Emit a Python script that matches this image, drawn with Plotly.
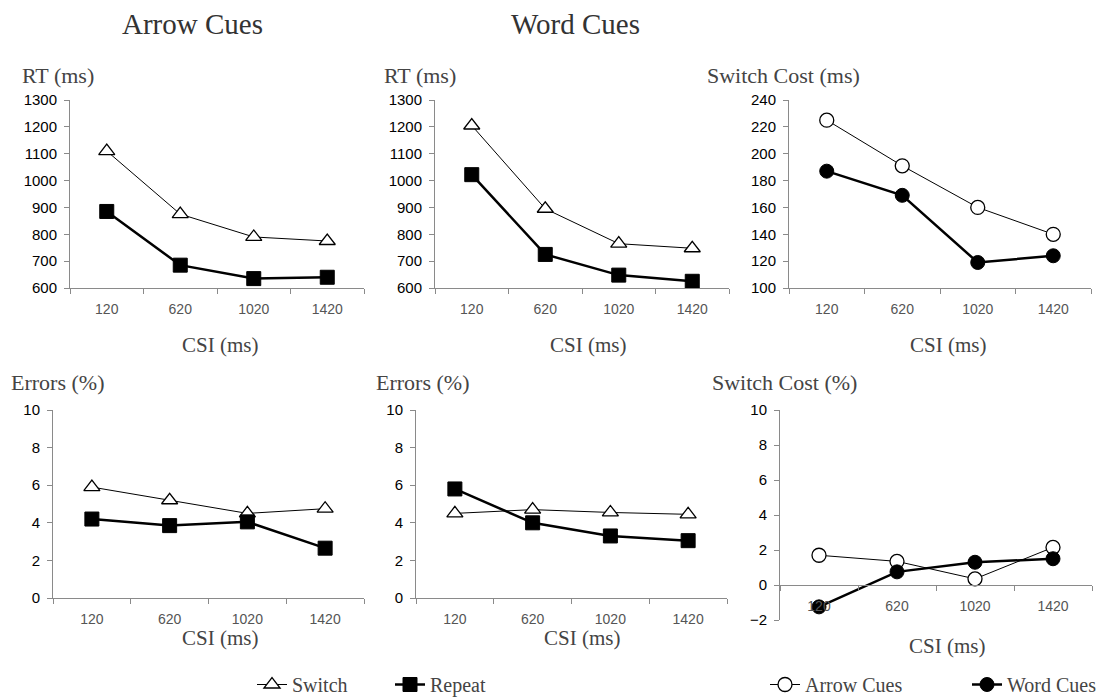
import plotly.graph_objects as go

# ---------------- data ----------------
csi = ["120", "620", "1020", "1420"]

rt_arrow_switch = [1110, 875, 790, 775]
rt_arrow_repeat = [885, 685, 635, 640]
rt_word_switch = [1205, 895, 765, 748]
rt_word_repeat = [1022, 725, 648, 625]
sc_rt_arrow = [225, 191, 160, 140]
sc_rt_word = [187, 169, 119, 124]

err_arrow_switch = [5.9, 5.2, 4.5, 4.75]
err_arrow_repeat = [4.2, 3.85, 4.05, 2.65]
err_word_switch = [4.5, 4.7, 4.55, 4.45]
err_word_repeat = [5.8, 4.0, 3.3, 3.05]
sc_err_arrow = [1.7, 1.35, 0.35, 2.15]
sc_err_word = [-1.25, 0.75, 1.3, 1.5]

rt_ticks = [600, 700, 800, 900, 1000, 1100, 1200, 1300]
sc_rt_ticks = [100, 120, 140, 160, 180, 200, 220, 240]
err_ticks = [0, 2, 4, 6, 8, 10]
sc_err_ticks = [-2, 0, 2, 4, 6, 8, 10]

# the page body has an 8px default margin; size the figure to fit the window
OFF = 8
W, H = 1119 - OFF, 697 - OFF
SANS = "Liberation Sans, Arial, sans-serif"
SERIF = "Liberation Serif, Times New Roman, serif"
AXC = "#8a8a8a"


def px_x(v):
    return (v - OFF) / W


def px_y(v):
    return 1 - (v - OFF) / H


fig = go.Figure()

thin = dict(color="black", width=1)
thick = dict(color="black", width=2.5)
tri = dict(symbol="triangle-up", size=14, color="white", line=dict(color="black", width=1.3))
sq = dict(symbol="square", size=14, color="black", line=dict(color="black", width=1))
oc = dict(symbol="circle", size=14, color="white", line=dict(color="black", width=1.3))
fc = dict(symbol="circle", size=14, color="black", line=dict(color="black", width=1))


def add(y, ax, name, line, marker, show, legend="legend"):
    fig.add_trace(go.Scatter(
        x=csi, y=y, mode="lines+markers", name=name, line=line, marker=marker,
        xaxis="x" + ax, yaxis="y" + ax, showlegend=show, legend=legend,
        cliponaxis=False))


add(rt_arrow_switch, "", "Switch", thin, tri, True)
add(rt_arrow_repeat, "", "Repeat", thick, sq, True)
add(rt_word_switch, "2", "Switch", thin, tri, False)
add(rt_word_repeat, "2", "Repeat", thick, sq, False)
add(sc_rt_arrow, "3", "Arrow Cues", thin, oc, True, "legend2")
add(sc_rt_word, "3", "Word Cues", thick, fc, True, "legend2")
add(err_arrow_switch, "4", "Switch", thin, tri, False)
add(err_arrow_repeat, "4", "Repeat", thick, sq, False)
add(err_word_switch, "5", "Switch", thin, tri, False)
add(err_word_repeat, "5", "Repeat", thick, sq, False)
add(sc_err_arrow, "6", "Arrow Cues", thin, oc, False, "legend2")
add(sc_err_word, "6", "Word Cues", thick, fc, False, "legend2")

panels = [
    # (suffix, x0, x1, ytop, ybot, range, ticks)
    ("", 70, 364, 100, 288, [600, 1300], rt_ticks),
    ("2", 435, 729, 100, 288, [600, 1300], rt_ticks),
    ("3", 789, 1091, 100, 288, [100, 240], sc_rt_ticks),
    ("4", 53, 364, 410, 598, [0, 10], err_ticks),
    ("5", 416, 727, 410, 598, [0, 10], err_ticks),
    ("6", 780, 1092, 410, 620, [-2, 10], sc_err_ticks),
]

layout = {}
for suf, x0, x1, yt, yb, rng, ticks in panels:
    xa = dict(domain=[px_x(x0), px_x(x1)], anchor="y" + suf, type="category",
              range=[-0.5, 3.5], tickson="boundaries", ticks="outside", ticklen=5,
              tickcolor=AXC, showline=True, linecolor=AXC, linewidth=1,
              showgrid=False, zeroline=False, ticklabelstandoff=8,
              tickfont=dict(family=SANS, size=14, color="#555555"))
    ya = dict(domain=[px_y(yb), px_y(yt)], anchor="x" + suf, range=rng,
              tickvals=ticks, ticks="outside", ticklen=5, tickcolor=AXC,
              showline=True, linecolor=AXC, linewidth=1, showgrid=False,
              zeroline=False, ticklabelstandoff=4,
              tickfont=dict(family=SANS, size=15, color="black"))
    if suf == "6":
        xa["anchor"] = "free"
        xa["position"] = px_y(585)
    layout["xaxis" + suf] = xa
    layout["yaxis" + suf] = ya

fig.update_layout(**layout)

ann = []


def text(s, x, y, size, color="#444444", xanchor="left"):
    ann.append(dict(text=s, x=px_x(x), y=px_y(y), xref="paper", yref="paper",
                    xanchor=xanchor, yanchor="middle", showarrow=False,
                    font=dict(family=SERIF, size=size, color=color)))


text("Arrow Cues", 192, 24, 29, "#333333", "center")
text("Word Cues", 575, 24, 29, "#333333", "center")
text("RT (ms)", 20, 76, 22)
text("RT (ms)", 382, 76, 22)
text("Switch Cost (ms)", 705, 76, 22)
text("Errors (%)", 9, 383, 22)
text("Errors (%)", 374, 383, 22)
text("Switch Cost (%)", 710, 383, 22)
for cx, cy in [(220, 345), (588, 345), (948, 345), (220, 638), (582, 638), (947, 646)]:
    text("CSI (ms)", cx, cy, 21, "#444444", "center")

legfont = dict(family=SERIF, size=20, color="#444444")
fig.update_layout(
    width=W, height=H, margin=dict(l=0, r=0, t=0, b=0, autoexpand=False),
    paper_bgcolor="white", plot_bgcolor="white",
    annotations=ann,
    legend=dict(orientation="h", x=px_x(252), y=px_y(665), xanchor="left", yanchor="top",
                entrywidth=93, entrywidthmode="pixels", bgcolor="rgba(0,0,0,0)",
                font=legfont),
    legend2=dict(orientation="h", x=px_x(765), y=px_y(665), xanchor="left", yanchor="top",
                 entrywidth=157, entrywidthmode="pixels", bgcolor="rgba(0,0,0,0)",
                 font=legfont),
)

fig.write_html("out.html")
